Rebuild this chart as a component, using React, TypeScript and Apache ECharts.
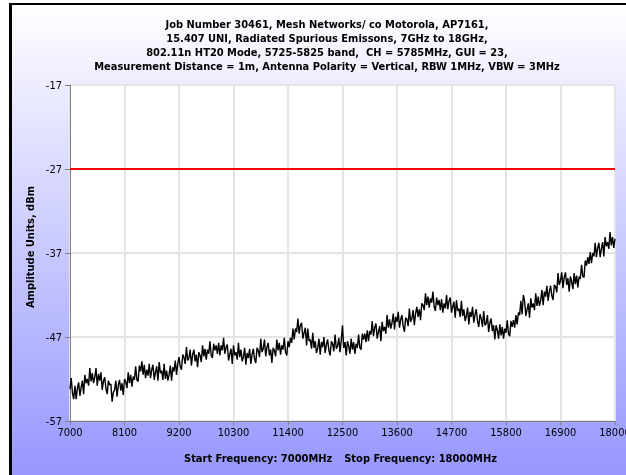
import React, { useEffect, useRef } from "react";
import * as echarts from "echarts";

const titleLines = [
  "Job Number 30461, Mesh Networks/ co Motorola, AP7161,",
  "15.407 UNI, Radiated Spurious Emissons, 7GHz to 18GHz,",
  "802.11n HT20 Mode, 5725-5825 band,  CH = 5785MHz, GUI = 23,",
  "Measurement Distance = 1m, Antenna Polarity = Vertical, RBW 1MHz, VBW = 3MHz",
];
const yAxisTitle = "Amplitude Units, dBm";
const startLabel = "Start Frequency: 7000MHz";
const stopLabel = "Stop Frequency: 18000MHz";

const freqStart = 7000;
const freqStop = 18000;
const freqStep = 25;
const freqTickStep = 1100;
const ampMin = -57;
const ampMax = -17;
const ampTickStep = 10;
const limitLevel = -27;

// measured trace, one reading every 25 MHz from 7000 MHz to 18000 MHz
const amplitude = [
  -53.2, -51.9, -53.7, -54.4, -52.8, -54.4, -53.1, -52.4, -54.0, -53.0, -52.2, -53.8, -51.5, -52.5, -52.0, -52.8, -50.7, -52.3, -51.3, -52.5,
  -51.8, -50.7, -52.8, -51.4, -52.2, -51.2, -53.3, -52.3, -51.8, -53.1, -53.8, -52.2, -52.7, -52.6, -54.7, -53.6, -53.3, -52.2, -54.1, -52.7,
  -52.1, -53.4, -52.5, -53.9, -52.0, -52.3, -53.1, -51.2, -52.5, -51.5, -52.9, -51.7, -52.1, -50.5, -52.1, -52.3, -50.4, -51.1, -49.9, -51.5,
  -50.3, -51.9, -50.9, -51.6, -50.2, -51.9, -50.9, -50.3, -52.1, -51.2, -50.5, -52.2, -50.0, -51.3, -51.0, -52.1, -50.2, -52.0, -51.0, -52.2,
  -51.5, -50.4, -52.2, -50.6, -51.1, -49.8, -51.5, -50.2, -49.4, -50.5, -50.9, -49.1, -49.4, -50.2, -48.2, -49.8, -49.5, -48.5, -50.4, -49.1,
  -48.5, -49.9, -49.1, -50.6, -48.8, -49.2, -50.0, -48.0, -49.3, -48.4, -49.7, -48.5, -49.0, -47.5, -49.2, -49.5, -47.8, -48.6, -48.0, -49.0,
  -47.7, -49.2, -48.0, -48.6, -47.1, -49.0, -48.2, -47.9, -49.8, -49.1, -48.4, -50.2, -48.0, -49.2, -48.8, -49.7, -47.7, -49.4, -48.5, -49.9,
  -49.4, -48.3, -50.3, -48.9, -49.5, -48.4, -50.2, -49.1, -48.4, -49.6, -50.1, -48.3, -48.6, -49.4, -47.2, -48.8, -48.4, -47.3, -49.3, -48.2,
  -47.7, -49.2, -48.5, -50.1, -48.3, -48.6, -49.3, -47.3, -48.6, -47.7, -49.1, -48.0, -48.5, -47.1, -48.8, -49.2, -47.5, -48.2, -47.1, -47.7,
  -46.0, -47.3, -46.0, -46.4, -44.8, -46.6, -45.6, -45.3, -47.2, -46.5, -45.9, -48.0, -46.0, -47.5, -47.3, -48.4, -46.5, -48.3, -47.5, -48.9,
  -48.3, -47.2, -49.1, -47.6, -48.2, -47.0, -48.9, -47.9, -47.3, -48.6, -49.2, -47.5, -47.8, -48.7, -46.7, -48.4, -48.1, -47.1, -48.8, -47.4,
  -45.6, -48.3, -47.6, -49.2, -47.5, -48.1, -49.0, -47.2, -48.5, -47.6, -49.0, -47.8, -48.3, -46.7, -48.3, -48.5, -46.6, -47.3, -46.6, -47.6,
  -46.2, -47.5, -46.3, -46.7, -45.1, -46.9, -45.9, -45.4, -47.2, -46.4, -45.7, -47.5, -45.2, -46.3, -45.8, -46.6, -44.4, -45.9, -44.9, -46.0,
  -45.3, -44.2, -46.1, -44.6, -45.2, -44.0, -45.9, -44.9, -44.4, -45.7, -46.4, -44.7, -44.9, -45.7, -43.6, -45.2, -44.8, -43.8, -45.6, -44.2,
  -43.4, -44.6, -43.7, -45.0, -43.0, -43.2, -43.8, -41.8, -43.2, -42.2, -43.5, -42.4, -42.9, -41.6, -43.4, -43.9, -42.3, -43.2, -42.6, -43.8,
  -42.5, -44.1, -43.0, -43.6, -42.0, -43.7, -42.7, -42.3, -44.1, -43.4, -42.8, -44.7, -42.6, -43.9, -43.6, -44.6, -42.7, -44.5, -43.7, -45.1,
  -44.5, -43.5, -45.5, -44.0, -44.6, -43.4, -45.3, -44.3, -43.7, -45.1, -45.8, -44.3, -44.8, -45.8, -43.9, -45.6, -45.4, -44.4, -46.4, -45.3,
  -44.8, -46.3, -45.6, -47.3, -45.6, -46.2, -47.2, -45.5, -46.8, -45.8, -47.2, -46.0, -46.5, -45.0, -46.6, -46.9, -45.1, -45.8, -45.0, -45.9,
  -44.4, -45.5, -44.1, -44.4, -42.7, -44.3, -42.0, -42.7, -44.5, -43.7, -43.0, -44.7, -42.4, -43.5, -43.0, -43.8, -41.8, -43.3, -42.2, -43.3,
  -42.6, -41.4, -43.2, -41.6, -42.2, -40.9, -42.7, -41.6, -40.9, -42.1, -42.6, -40.8, -41.0, -41.7, -39.4, -40.8, -40.3, -39.3, -41.2, -39.9,
  -39.3, -40.8, -40.0, -41.6, -39.8, -40.4, -41.3, -39.4, -40.7, -39.7, -41.1, -39.8, -40.1, -38.4, -39.8, -39.9, -37.9, -38.5, -37.5, -38.3,
  -36.9, -38.2, -37.0, -37.4, -35.8, -37.5, -36.4, -35.8, -37.5, -36.5, -35.7, -37.4, -35.1, -36.2, -35.7, -36.5, -34.5, -36.1, -35.1, -36.4,
  -35.3,
];

const FONT = "'DejaVu Sans Condensed', 'DejaVu Sans', sans-serif";

export default function App() {
  const ref = useRef<HTMLDivElement>(null);
  useEffect(() => {
    if (!ref.current) return;
    const chart = echarts.init(ref.current, null, { renderer: "svg" });
    const traceData = amplitude.map((v, i) => [freqStart + i * freqStep, v]);
    chart.setOption({
      animation: false,
      backgroundColor: "transparent",
      title: {
        text: titleLines.join("\n"),
        left: 322,
        top: 12,
        textAlign: "center",
        textStyle: {
          fontFamily: FONT,
          fontSize: 11,
          fontWeight: "bold",
          lineHeight: 14,
          color: "#000",
        },
      },
      grid: {
        left: 70,
        top: 85,
        width: 545,
        height: 336,
        show: true,
        backgroundColor: "#ffffff",
        borderWidth: 0,
        containLabel: false,
        outerBoundsMode: "none",
      },
      xAxis: {
        type: "value",
        min: freqStart,
        max: freqStop,
        interval: freqTickStep,
        axisLine: { show: true, lineStyle: { color: "#808080", width: 1 } },
        axisTick: { show: true, length: 4, lineStyle: { color: "#808080" } },
        axisLabel: {
          color: "#000",
          fontFamily: FONT,
          fontSize: 11,
          margin: 6,
          showMinLabel: true,
          showMaxLabel: true,
          formatter: (v: number) => String(v),
        },
        splitLine: { show: true, lineStyle: { color: "#e4e4e4", width: 2 } },
      },
      yAxis: {
        type: "value",
        min: ampMin,
        max: ampMax,
        interval: ampTickStep,
        axisLine: { show: true, lineStyle: { color: "#808080", width: 1 } },
        axisTick: { show: true, length: 5, lineStyle: { color: "#808080" } },
        axisLabel: {
          color: "#000",
          fontFamily: FONT,
          fontSize: 11,
          margin: 8,
          formatter: (v: number) => String(v),
        },
        splitLine: { show: true, lineStyle: { color: "#e4e4e4", width: 2 } },
      },
      graphic: [
        {
          type: "rect",
          z: -100,
          silent: true,
          shape: { x: 0, y: 0, width: 626, height: 475 },
          style: { fill: "#ffffff" },
        },
        {
          type: "rect",
          z: -99,
          silent: true,
          shape: { x: 9, y: 3, width: 617, height: 472 },
          style: {
            fill: new echarts.graphic.LinearGradient(0, 0, 0, 1, [
              { offset: 0, color: "#ffffff" },
              { offset: 1, color: "#9797ff" },
            ]),
          },
        },
        {
          type: "rect",
          z: -98,
          silent: true,
          shape: { x: 9, y: 3, width: 617, height: 2 },
          style: { fill: "#000000" },
        },
        {
          type: "rect",
          z: -98,
          silent: true,
          shape: { x: 9, y: 3, width: 3, height: 472 },
          style: { fill: "#000000" },
        },
        {
          type: "text",
          x: 30,
          y: 247,
          rotation: Math.PI / 2,
          silent: true,
          style: {
            text: yAxisTitle,
            fontFamily: FONT,
            fontSize: 11,
            fontWeight: "bold",
            fill: "#000",
            align: "center",
            verticalAlign: "middle",
          },
        },
        {
          type: "text",
          x: 184,
          y: 458,
          silent: true,
          style: {
            text: startLabel,
            fontFamily: FONT,
            fontSize: 11,
            fontWeight: "bold",
            fill: "#000",
            align: "left",
            verticalAlign: "middle",
          },
        },
        {
          type: "text",
          x: 497,
          y: 458,
          silent: true,
          style: {
            text: stopLabel,
            fontFamily: FONT,
            fontSize: 11,
            fontWeight: "bold",
            fill: "#000",
            align: "right",
            verticalAlign: "middle",
          },
        },
      ],
      series: [
        {
          type: "line",
          data: [
            [freqStart, limitLevel],
            [freqStop, limitLevel],
          ],
          showSymbol: false,
          lineStyle: { color: "#ff0000", width: 2 },
          silent: true,
          z: 3,
        },
        {
          type: "line",
          data: traceData,
          showSymbol: false,
          lineStyle: { color: "#000000", width: 1.4 },
          silent: true,
          z: 4,
        },
      ],
    });
    return () => chart.dispose();
  }, []);
  return (
    <div
      ref={ref}
      style={{ position: "fixed", left: 0, top: 0, width: 626, height: 475 }}
    />
  );
}
